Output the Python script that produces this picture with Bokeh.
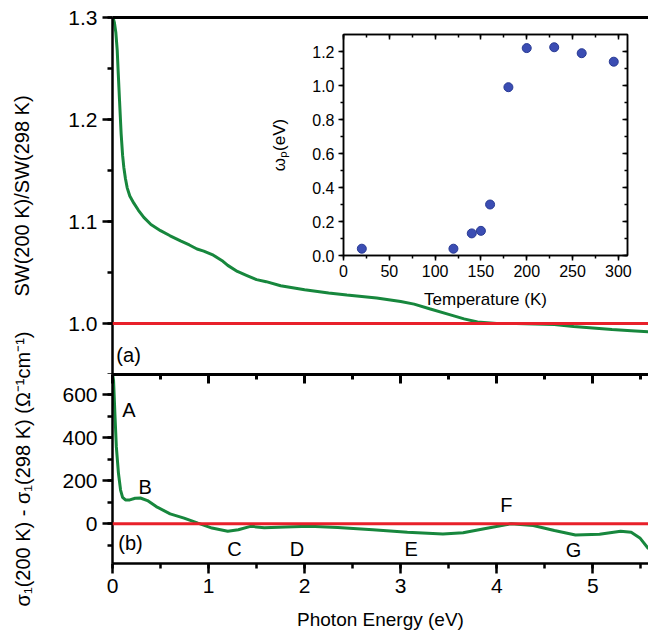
from bokeh.plotting import figure
from bokeh.models import (LinearAxis, SingleIntervalTicker, Range1d, Label, Span, Column,
                          CustomJSTickFormatter, NumeralTickFormatter)
from bokeh.embed import file_html
from bokeh.resources import INLINE

# ---------------- data ----------------
sw_energy = [0.005, 0.02, 0.035, 0.049, 0.06, 0.073, 0.09, 0.105, 0.118, 0.135, 0.153, 0.18,
             0.222, 0.27, 0.326, 0.4, 0.5, 0.6, 0.708, 0.8, 0.88, 0.95, 1.0, 1.05, 1.1, 1.15,
             1.2, 1.3, 1.4, 1.5, 1.6, 1.75, 2.0, 2.25, 2.44, 2.75, 3.0, 3.14, 3.3, 3.5, 3.66,
             3.8, 4.0, 4.2, 4.4, 4.6, 4.8, 5.0, 5.2, 5.4, 5.58]
sw_ratio = [1.300, 1.295, 1.285, 1.268, 1.245, 1.219, 1.186, 1.165, 1.153, 1.142, 1.133, 1.125,
            1.118, 1.111, 1.104, 1.097, 1.091, 1.086, 1.081, 1.077, 1.073, 1.071, 1.069, 1.067,
            1.064, 1.061, 1.057, 1.051, 1.047, 1.043, 1.041, 1.037, 1.033, 1.030, 1.028, 1.025,
            1.0215, 1.019, 1.0145, 1.009, 1.0045, 1.0015, 1.000, 1.000, 0.9995, 0.999, 0.997,
            0.9955, 0.994, 0.993, 0.992]

ds_energy = [0.003, 0.011, 0.025, 0.04, 0.062, 0.084, 0.105, 0.135, 0.18, 0.236, 0.29, 0.364,
             0.455, 0.6, 0.745, 0.89, 1.036, 1.2, 1.31, 1.436, 1.58, 1.8, 2.05, 2.345, 2.71,
             3.07, 3.44, 3.65, 3.87, 4.15, 4.38, 4.6, 4.82, 5.07, 5.29, 5.4, 5.49, 5.58]
ds_values = [690, 667, 512, 358, 235, 157, 123, 111, 111, 119, 120, 108,
             80, 46, 26, 3, -20, -35, -28, -12, -18, -15, -12, -17, -28,
             -40, -48, -42, -23, 0, -8, -31, -52, -49, -35, -40, -66, -117]

temperature = [20, 120, 140, 150, 160, 180, 200, 230, 260, 295]
omega_p = [0.04, 0.04, 0.13, 0.145, 0.30, 0.99, 1.22, 1.225, 1.19, 1.14]

peak_names = ["A", "B", "C", "D", "E", "F", "G"]
peak_energy = [0.17, 0.34, 1.27, 1.92, 3.11, 4.10, 4.80]
peak_level = [531, 173, -116, -116, -116, 88, -120]

# ---------------- styles ----------------
FONT = "Liberation Sans"
GREEN = "#17873d"
RED = "#e8202a"
BLUE = "#3b4db3"
W = 648
XR = (0, 5.58)
blank = CustomJSTickFormatter(code="return ''")


def style_axis(ax, tick_font="21px", out=10, minor_out=5, lw=2.5):
    ax.axis_line_width = lw
    ax.major_tick_line_width = lw
    ax.minor_tick_line_width = lw
    ax.major_tick_out = out
    ax.major_tick_in = 0
    ax.minor_tick_out = minor_out
    ax.minor_tick_in = 0
    ax.major_label_text_font = FONT
    ax.major_label_text_font_size = tick_font
    ax.major_label_text_color = "black"
    ax.axis_label_text_font = FONT
    ax.axis_label_text_font_style = "normal"
    ax.axis_label_text_color = "black"


def text_label(x, y, text, align="center"):
    return Label(x=x, y=y, text=text, text_font=FONT, text_font_size="20px",
                 text_color="black", text_align=align, text_baseline="middle")


# ---------------- inset figure ----------------
fi = figure(width=W, height=320, x_range=Range1d(0, 310), y_range=Range1d(0, 1.3),
            min_border_left=343, min_border_right=21, min_border_top=34, min_border_bottom=65,
            toolbar_location=None, output_backend="svg",
            background_fill_alpha=0, border_fill_alpha=0,
            outline_line_color="black", outline_line_width=1.5)
fi.grid.visible = False
fi.xaxis.ticker = SingleIntervalTicker(interval=50, num_minor_ticks=2)
fi.yaxis.ticker = SingleIntervalTicker(interval=0.2, num_minor_ticks=2)
fi.yaxis.formatter = NumeralTickFormatter(format="0.0")
for ax in (fi.xaxis[0], fi.yaxis[0]):
    style_axis(ax, tick_font="16px", out=5, minor_out=3, lw=1.5)
    ax.axis_label_text_font_size = "17px"
fi.xaxis.axis_label = "Temperature (K)"
fi.xaxis.major_label_standoff = 4
fi.xaxis.axis_label_standoff = 10
fi.yaxis.axis_label = "ωₚ(eV)"
fi.yaxis.major_label_standoff = 4
fi.yaxis.axis_label_standoff = 20
for side, tk in (("right", SingleIntervalTicker(interval=0.2, num_minor_ticks=2)),
                 ("above", SingleIntervalTicker(interval=50, num_minor_ticks=2))):
    ax = LinearAxis(ticker=tk, formatter=blank, major_label_standoff=0,
                    major_label_text_font_size="0px")
    style_axis(ax, lw=1.5)
    ax.major_tick_out = 0
    ax.minor_tick_out = 0
    ax.major_tick_in = 5
    ax.minor_tick_in = 3
    fi.add_layout(ax, side)
fi.scatter(temperature, omega_p, size=9, fill_color=BLUE, line_color="#283a94", line_width=1)

# ---------------- top panel ----------------
ft = figure(width=W, height=374, x_range=Range1d(*XR), y_range=Range1d(0.95, 1.30),
            x_axis_location="above",
            min_border_left=112, min_border_right=0, min_border_top=17, min_border_bottom=0,
            toolbar_location=None, output_backend="svg",
            background_fill_alpha=0, border_fill_alpha=0, outline_line_color=None)
ft.grid.visible = False
ft.yaxis.ticker = SingleIntervalTicker(interval=0.1, num_minor_ticks=2)
ft.yaxis.formatter = NumeralTickFormatter(format="0.0")
style_axis(ft.yaxis[0])
ft.yaxis.major_label_standoff = 5
ft.yaxis.axis_label = "SW(200 K)/SW(298 K)"
ft.yaxis.axis_label_text_font_size = "20px"
ft.yaxis.axis_label_standoff = 32
style_axis(ft.xaxis[0], lw=3)
ft.xaxis.major_tick_out = 0
ft.xaxis.minor_tick_out = 0
ft.xaxis.formatter = blank
ft.xaxis.major_label_text_font_size = "0px"
ft.xaxis.major_label_standoff = 0
ft.add_layout(Span(location=1.0, dimension="width", line_color=RED, line_width=3))
ft.line(sw_energy, sw_ratio, line_color=GREEN, line_width=3)
ft.add_layout(text_label(0.04, 0.969, "(a)", align="left"))

# ---------------- bottom panel ----------------
fb = figure(width=W, height=634, x_range=Range1d(*XR), y_range=Range1d(-185, 695),
            min_border_left=112, min_border_right=0, min_border_top=374, min_border_bottom=71,
            toolbar_location=None, output_backend="svg",
            background_fill_alpha=0, border_fill_alpha=0, outline_line_color=None)
fb.grid.visible = False
fb.yaxis.ticker = SingleIntervalTicker(interval=200, num_minor_ticks=2)
fb.xaxis.ticker = SingleIntervalTicker(interval=1, num_minor_ticks=2)
style_axis(fb.yaxis[0])
style_axis(fb.xaxis[0])
fb.yaxis.major_label_standoff = 5
fb.xaxis.major_label_standoff = 5
fb.yaxis.axis_label = "σ₁(200 K) - σ₁(298 K) (Ω⁻¹cm⁻¹)"
fb.yaxis.axis_label_text_font_size = "20px"
fb.yaxis.axis_label_standoff = 25
fb.xaxis.axis_label = "Photon Energy (eV)"
fb.xaxis.axis_label_text_font_size = "19px"
fb.xaxis.axis_label_standoff = 13
top_ax = LinearAxis(ticker=SingleIntervalTicker(interval=1, num_minor_ticks=2), formatter=blank,
                    major_label_standoff=0, major_label_text_font_size="0px")
style_axis(top_ax, lw=3)
top_ax.major_tick_out = 0
top_ax.minor_tick_out = 0
top_ax.major_tick_in = 9
top_ax.minor_tick_in = 5
fb.add_layout(top_ax, "above")
fb.add_layout(Span(location=0, dimension="width", line_color=RED, line_width=3))
fb.line(ds_energy, ds_values, line_color=GREEN, line_width=3)
for name, e, v in zip(peak_names, peak_energy, peak_level):
    fb.add_layout(text_label(e, v, name))
fb.add_layout(text_label(0.06, -90, "(b)", align="left"))

# overlay the three canvases: each wrapped in its own box so frames are not aligned
box_i = Column(children=[fi])
box_t = Column(children=[ft], margin=(-320, 0, 0, 0))
box_b = Column(children=[fb], margin=(-374, 0, 0, 0))
layout = Column(children=[box_i, box_t, box_b], spacing=0)
open("out.html", "w").write(file_html(layout, INLINE))
